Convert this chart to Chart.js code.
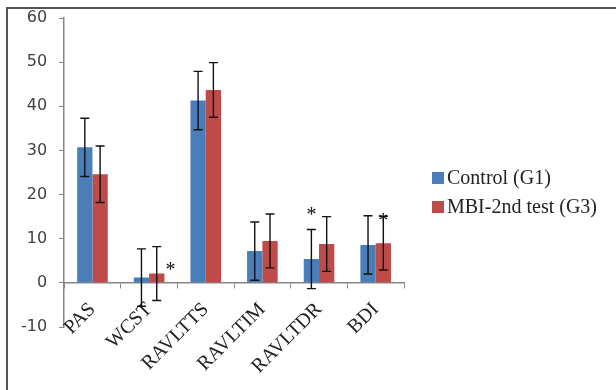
<!DOCTYPE html>
<html>
<head>
<meta charset="utf-8">
<script src="https://cdn.jsdelivr.net/npm/chart.js@4.4.0/dist/chart.umd.min.js"></script>
<style>
html, body { margin: 0; padding: 0; background: #fff; }
</style>
</head>
<body>
<canvas id="grafico" width="616" height="390"></canvas>
<script>
// pruebas y grupos
const pruebas = ['PAS', 'WCST', 'RAVLTTS', 'RAVLTIM', 'RAVLTDR', 'BDI'];
const grupos = ['Control (G1)', 'MBI-2nd test (G3)'];
// medias y desvios
const control = [30.7, 1.2, 41.3, 7.2, 5.4, 8.6];
const controlDE = [6.6, 6.5, 6.6, 6.6, 6.7, 6.6];
const mbi = [24.6, 2.1, 43.7, 9.5, 8.8, 9.0];
const mbiDE = [6.4, 6.1, 6.2, 6.1, 6.2, 6.1];
// marcas del eje y
const ticksY = [-10, 0, 10, 20, 30, 40, 50, 60];
// asteriscos: prueba, lugar (0 azul, 1 rojo, mas a la derecha), valor
const asteriscos = [['WCST', 1.9, 3.6], ['RAVLTDR', 0, 16.0], ['BDI', 1, 14.8]];

const colores = ['#4a7ebb', '#be4b48'];

//barras de error
const barrasError = {
    id: 'barrasError',
    afterDatasetsDraw(chart) {
        const ctx = chart.ctx;
        const y = chart.scales.y;
        const desvios = [controlDE, mbiDE];
        ctx.save();
        ctx.strokeStyle = '#111';
        ctx.lineWidth = 1.4;
        chart.data.datasets.forEach((ds, i) => {
            chart.getDatasetMeta(i).data.forEach((bar, j) => {
                const alto = y.getPixelForValue(ds.data[j] + desvios[i][j]);
                const bajo = y.getPixelForValue(ds.data[j] - desvios[i][j]);
                ctx.beginPath();
                ctx.moveTo(bar.x, alto); ctx.lineTo(bar.x, bajo);
                ctx.moveTo(bar.x - 4.5, alto); ctx.lineTo(bar.x + 4.5, alto);
                ctx.moveTo(bar.x - 4.5, bajo); ctx.lineTo(bar.x + 4.5, bajo);
                ctx.stroke();
            });
        });
        //asteriscos
        ctx.fillStyle = '#111';
        ctx.font = '20px "Liberation Serif"';
        ctx.textAlign = 'center';
        ctx.textBaseline = 'middle';
        asteriscos.forEach(([prueba, lugar, valor]) => {
            const j = pruebas.indexOf(prueba);
            const b0 = chart.getDatasetMeta(0).data[j];
            const b1 = chart.getDatasetMeta(1).data[j];
            const x = b0.x + lugar * (b1.x - b0.x);
            ctx.fillText('*', x, y.getPixelForValue(valor) + 4);
        });
        ctx.restore();
    }
};

//leyenda y marco
const leyenda = {
    id: 'leyenda',
    beforeDraw(chart) {
        const ctx = chart.ctx;
        ctx.save();
        ctx.strokeStyle = '#555';
        ctx.lineWidth = 2;
        ctx.beginPath();
        ctx.moveTo(7, chart.height);
        ctx.lineTo(7, 8);
        ctx.lineTo(chart.width, 8);
        ctx.stroke();
        ctx.restore();
    },
    afterDraw(chart) {
        const ctx = chart.ctx;
        const x0 = chart.chartArea.right + 28;
        const y0 = 178;
        ctx.save();
        ctx.font = '20px "Liberation Serif"';
        ctx.textBaseline = 'middle';
        chart.data.datasets.forEach((ds, i) => {
            const yy = y0 + i * 29;
            ctx.fillStyle = ds.backgroundColor;
            ctx.fillRect(x0, yy - 6, 12, 12);
            ctx.fillStyle = '#222';
            ctx.fillText(ds.label, x0 + 15, yy + 1);
        });
        ctx.restore();
    }
};

new Chart(document.getElementById('grafico'), {
    type: 'bar',
    data: {
        labels: pruebas,
        datasets: [{
            label: grupos[0],
            data: control,
            backgroundColor: colores[0]
        }, {
            label: grupos[1],
            data: mbi,
            backgroundColor: colores[1]
        }]
    },
    options: {
        responsive: false,
        animation: false,
        devicePixelRatio: 1,
        categoryPercentage: 0.54,
        barPercentage: 1,
        layout: { padding: { top: 18, bottom: 63, left: 17, right: 212 } },
        plugins: {
            legend: { display: false },
            tooltip: { enabled: false }
        },
        scales: {
            y: {
                min: -10,
                max: 60,
                afterBuildTicks: s => { s.ticks = ticksY.map(v => ({ value: v })); },
                ticks: { font: { family: 'DejaVu Sans', size: 16 }, color: '#404040', padding: 4 },
                // marca larga pero solo se ven los 5px junto al eje
                grid: { drawOnChartArea: false, tickLength: 13, tickBorderDash: [0, 8, 5, 100], color: '#868686' },
                border: { color: '#868686', width: 1.5 }
            },
            x: {
                position: { y: 0 },
                grid: { drawOnChartArea: false, tickLength: 5, color: '#868686', offset: true },
                border: { color: '#868686', width: 1.5 },
                ticks: {
                    font: { family: 'Liberation Serif', size: 20 },
                    color: '#222',
                    minRotation: 45,
                    maxRotation: 45,
                    autoSkip: false,
                    padding: 10
                }
            }
        }
    },
    plugins: [barrasError, leyenda]
});
</script>
</body>
</html>
